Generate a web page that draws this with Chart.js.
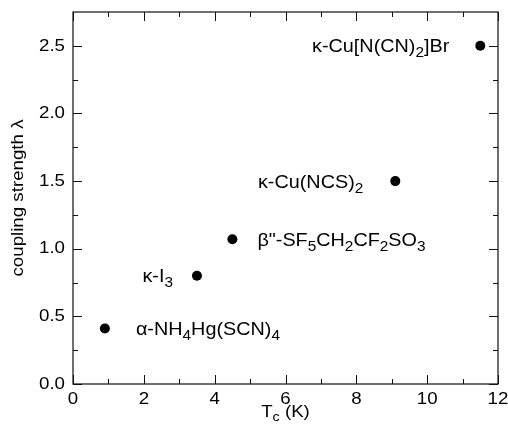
<!DOCTYPE html>
<html><head><meta charset="utf-8">
<script src="https://cdn.jsdelivr.net/npm/chart.js@4/dist/chart.umd.min.js"></script>
<style>html,body{margin:0;padding:0;background:#fff}#wrap{width:508px;height:429px;position:relative}</style>
</head><body><div id="wrap"><canvas id="c" width="508" height="429"></canvas></div>
<script>
// ---- data ----
const compounds = ["α-NH_4Hg(SCN)_4", "κ-I_3", "β\"-SF_5CH_2CF_2SO_3", "κ-Cu(NCS)_2", "κ-Cu[N(CN)_2]Br"];
const tcValues = [0.9, 3.5, 4.5, 9.1, 11.5];
const lambdaValues = [0.41, 0.80, 1.07, 1.50, 2.50];
const xTickValues = [0, 2, 4, 6, 8, 10, 12];
const xMinorValues = [1, 3, 5, 7, 9, 11];
const yTickValues = [0, 0.5, 1.0, 1.5, 2.0, 2.5];
const yMinorValues = [0.25, 0.75, 1.25, 1.75, 2.25];
const xTitle = ["T", "_c", " (K)"];
const yTitle = "coupling strength λ";

// ---- styles ----
const labelPlacement = [
  {dx: 31, align: 'left'}, {dx: -24, align: 'right'}, {dx: 25, align: 'left'},
  {dx: -32, align: 'right'}, {dx: -31, align: 'right'}
];
const FONT = "'Liberation Sans', Arial, sans-serif";
const STRETCH = 1.1;

const canvas = document.getElementById('c');
const ctx0 = canvas.getContext('2d');
const origFill = ctx0.fillText.bind(ctx0);
ctx0.fillText = function(t, x, y, w) {
  this.save(); this.translate(x, y); this.scale(STRETCH, 1);
  if (w === undefined) origFill(t, 0, 0); else origFill(t, 0, 0, w / STRETCH);
  this.restore();
};

function tokenize(s) {
  const out = [];
  for (let i = 0; i < s.length; i++) {
    if (s[i] === '_' && i + 1 < s.length) { out.push({t: s[i + 1], sub: true}); i++; }
    else {
      if (out.length && !out[out.length - 1].sub) out[out.length - 1].t += s[i];
      else out.push({t: s[i], sub: false});
    }
  }
  return out;
}
function drawRich(ctx, parts, x, y, align, size, subSize, subShift) {
  ctx.textAlign = 'left'; ctx.textBaseline = 'alphabetic';
  let total = 0;
  parts.forEach(p => { ctx.font = (p.sub ? subSize : size) + 'px ' + FONT; p.w = ctx.measureText(p.t).width * STRETCH; total += p.w; });
  let cx = align === 'right' ? x - total : (align === 'center' ? x - total / 2 : x);
  parts.forEach(p => {
    ctx.font = (p.sub ? subSize : size) + 'px ' + FONT;
    ctx.fillText(p.t, cx, y + (p.sub ? subShift : 0));
    cx += p.w;
  });
}

const decor = {
  id: 'decor',
  beforeDatasetsDraw(chart) {
    const {ctx, chartArea: a, scales: {x, y}} = chart;
    ctx.save();
    ctx.strokeStyle = '#111'; ctx.lineWidth = 1.2;
    ctx.strokeRect(a.left, a.top, a.right - a.left, a.bottom - a.top);
    ctx.lineWidth = 1;
    ctx.beginPath();
    const xt = (vals, len) => vals.forEach(v => { const px = Math.round(x.getPixelForValue(v)) + 0.5;
      ctx.moveTo(px, a.bottom); ctx.lineTo(px, a.bottom - len); ctx.moveTo(px, a.top); ctx.lineTo(px, a.top + len); });
    const yt = (vals, len) => vals.forEach(v => { const py = Math.round(y.getPixelForValue(v)) + 0.5;
      ctx.moveTo(a.left, py); ctx.lineTo(a.left + len, py); ctx.moveTo(a.right, py); ctx.lineTo(a.right - len, py); });
    xt(xTickValues, 9); xt(xMinorValues, 5); yt(yTickValues, 9); yt(yMinorValues, 5);
    ctx.stroke();
    ctx.restore();
  },
  afterDraw(chart) {
    const {ctx, chartArea: a, scales: {x, y}} = chart;
    ctx.save();
    ctx.fillStyle = '#000';
    compounds.forEach((name, i) => {
      const px = x.getPixelForValue(tcValues[i]), py = y.getPixelForValue(lambdaValues[i]);
      const pl = labelPlacement[i];
      drawRich(ctx, tokenize(name), px + pl.dx, py + 6.5, pl.align, 18, 14, 5);
    });
    drawRich(ctx, xTitle.map(s => s[0] === '_' ? {t: s.slice(1), sub: true} : {t: s, sub: false}),
      (a.left + a.right) / 2, 417, 'center', 17, 13, 4);
    ctx.translate(18, (a.top + a.bottom) / 2);
    ctx.rotate(-Math.PI / 2);
    ctx.font = '17px ' + FONT; ctx.textAlign = 'center'; ctx.textBaseline = 'middle';
    ctx.fillText(yTitle, 0, 0);
    ctx.restore();
  }
};

new Chart(ctx0, {
  type: 'scatter',
  data: { datasets: [{ data: tcValues.map((v, i) => ({x: v, y: lambdaValues[i]})),
    pointRadius: 5, pointBackgroundColor: '#000', pointBorderWidth: 0, pointHoverRadius: 5 }] },
  options: {
    responsive: false, animation: false, events: [],
    layout: { padding: {top: 12, right: 10, left: 0, bottom: 0} },
    plugins: { legend: {display: false}, tooltip: {enabled: false} },
    scales: {
      x: { type: 'linear', min: 0, max: 12,
        grid: {display: false, drawTicks: false}, border: {display: false},
        ticks: { font: {family: FONT, size: 17}, color: '#000', padding: 5 },
        afterBuildTicks: s => { s.ticks = xTickValues.map(v => ({value: v})); },
        afterFit: s => { s.height = 45; s.paddingLeft = 0; s.paddingRight = 0; } },
      y: { type: 'linear', min: 0, max: 2.75,
        grid: {display: false, drawTicks: false}, border: {display: false},
        ticks: { font: {family: FONT, size: 17}, color: '#000', padding: 8,
          callback: v => Number(v).toFixed(1) },
        afterBuildTicks: s => { s.ticks = yTickValues.map(v => ({value: v})); },
        afterFit: s => { s.width = 73; s.paddingTop = 0; s.paddingBottom = 0; } }
    }
  },
  plugins: [decor]
});
</script></body></html>
